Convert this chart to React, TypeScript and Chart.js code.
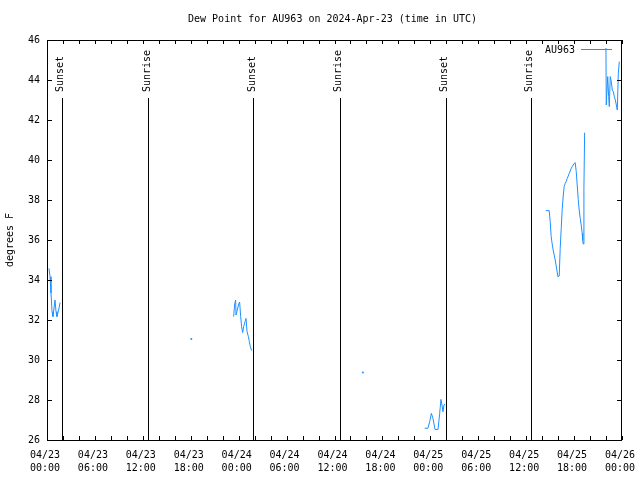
import React, { useEffect, useRef } from "react";
import { Chart, registerables } from "chart.js";

Chart.register(...registerables);

const TITLE = "Dew Point for AU963 on 2024-Apr-23 (time in UTC)";
const Y_TITLE = "degrees F";
const SERIES_NAME = "AU963";
const LINE_COLOR = "#1e90ff";
const FONT = '"DejaVu Sans Mono", "Liberation Mono", monospace';

// x-axis tick labels every 6 hours (hours since 2024-04-23 00:00 UTC)
const TICK_DATES = ["04/23", "04/23", "04/23", "04/23", "04/24", "04/24", "04/24", "04/24", "04/25", "04/25", "04/25", "04/25", "04/26"];
const TICK_TIMES = ["00:00", "06:00", "12:00", "18:00", "00:00", "06:00", "12:00", "18:00", "00:00", "06:00", "12:00", "18:00", "00:00"];

// sunrise / sunset markers (hours since 04/23 00:00)
const SUN_HOURS = [1.84, 12.67, 25.84, 36.63, 49.92, 60.59];
const SUN_LABELS = ["Sunset", "Sunrise", "Sunset", "Sunrise", "Sunset", "Sunrise"];
const SUN_LINE_TOP = 43.1;

// observation times (hours since 04/23 00:00) and dew point (°F); null = gap
const HOURS = [
  0.25, 0.38, 0.5, 0.63, 0.75, 1.0, 1.13, 1.25, 1.51, 1.63,
  1.75,
  17.9, 18.07, 18.2,
  23.3,
  23.37, 23.5, 23.62, 23.67, 23.83, 24.0, 24.12, 24.25, 24.37, 24.5, 24.62, 24.8, 24.92, 25.05, 25.21, 25.34, 25.46, 25.63,
  25.75,
  39.4, 39.55, 39.7,
  47.2,
  47.29, 47.7, 47.92, 48.13, 48.33, 48.58, 48.96, 49.17, 49.33, 49.46, 49.58, 49.71, 49.83,
  49.95,
  62.4,
  62.47, 62.88, 63.01, 63.13, 63.26, 63.38, 63.51, 63.64, 63.8, 63.97, 64.14, 64.26, 64.39, 64.51, 64.64, 64.76, 64.89,
  65.01, 65.14, 65.27, 65.39, 65.52, 65.64, 65.77, 65.89, 66.02, 66.14, 66.27, 66.39, 66.52, 66.64, 66.77, 66.89,
  67.02, 67.07, 67.14, 67.23, 67.32,
  67.5,
  69.99, 70.03, 70.21, 70.33, 70.41, 70.53, 70.66, 70.78, 70.91, 71.04, 71.16, 71.29, 71.41, 71.54, 71.66,
];
const DEW = [
  34.58, 34.17, 33.35, 32.42, 32.17, 33.0, 32.42, 32.17, 32.6, 32.87,
  null,
  null, 31.05, null,
  null,
  32.17, 32.8, 33.0, 32.25, 32.5, 32.8, 32.9, 32.17, 31.67, 31.37, 31.67, 31.92, 32.08, 31.42, 31.17, 30.92, 30.67, 30.47,
  null,
  null, 29.38, null,
  null,
  26.59, 26.59, 26.92, 27.33, 27.08, 26.53, 26.53, 27.33, 28.03, 27.75, 27.41, 27.75, 27.8,
  null,
  null,
  37.47, 37.47, 36.92, 36.17, 35.8, 35.5, 35.25, 35.0, 34.6, 34.17, 34.2, 35.58, 36.58, 37.53, 38.2, 38.67, 38.83,
  38.92, 39.08, 39.2, 39.33, 39.45, 39.58, 39.67, 39.75, 39.83, 39.87, 39.42, 38.75, 38.03, 37.5, 37.08, 36.75,
  36.33, 36.0, 35.8, 38.58, 41.37,
  null,
  45.6, 42.75, 44.17, 43.17, 42.67, 44.17, 43.92, 43.5, 43.42, 43.17, 43.0, 42.75, 42.5, 44.33, 44.92,
];

const decoPlugin = {
  id: "deco",
  beforeDatasetsDraw(chart: any) {
    const { ctx, chartArea, scales } = chart;
    const xs = scales.x;
    const ys = scales.y;
    ctx.save();
    ctx.strokeStyle = "#000";
    ctx.lineWidth = 1;
    const topY = Math.round(ys.getPixelForValue(SUN_LINE_TOP));
    SUN_HOURS.forEach((h) => {
      const px = Math.round(xs.getPixelForValue(h)) + 0.5;
      ctx.beginPath();
      ctx.moveTo(px, topY);
      ctx.lineTo(px, chartArea.bottom);
      ctx.stroke();
    });
    ctx.restore();
  },
  afterDraw(chart: any) {
    const { ctx, chartArea, scales } = chart;
    const xs = scales.x;
    const ys = scales.y;
    const { left, right, top, bottom } = chartArea;
    ctx.save();
    ctx.strokeStyle = "#000";
    ctx.fillStyle = "#000";
    ctx.lineWidth = 1;
    // border
    ctx.strokeRect(left + 0.5, top + 0.5, right - left - 1, bottom - top);
    // inward ticks
    ctx.beginPath();
    xs.ticks.forEach((t: any) => {
      const px = Math.round(xs.getPixelForValue(t.value)) + 0.5;
      ctx.moveTo(px, bottom);
      ctx.lineTo(px, bottom - 4);
      ctx.moveTo(px, top);
      ctx.lineTo(px, top + 4);
    });
    ys.ticks.forEach((t: any) => {
      const py = Math.round(ys.getPixelForValue(t.value)) + 0.5;
      ctx.moveTo(left, py);
      ctx.lineTo(left + 5, py);
      ctx.moveTo(right, py);
      ctx.lineTo(right - 5, py);
    });
    ctx.stroke();
    ctx.font = `10px ${FONT}`;
    // title
    ctx.textAlign = "center";
    ctx.textBaseline = "middle";
    ctx.fillText(TITLE, (left + right) / 2 - 2, 19);
    // sun labels
    const labelY = Math.round(ys.getPixelForValue(SUN_LINE_TOP)) - 6;
    SUN_HOURS.forEach((h, i) => {
      const px = xs.getPixelForValue(h);
      ctx.save();
      ctx.translate(px - 1, labelY);
      ctx.rotate(-Math.PI / 2);
      ctx.textAlign = "left";
      ctx.textBaseline = "middle";
      ctx.fillText(SUN_LABELS[i], 0, 0);
      ctx.restore();
    });
    // legend
    ctx.textAlign = "right";
    ctx.textBaseline = "middle";
    ctx.fillText(SERIES_NAME, 575, 50);
    ctx.strokeStyle = LINE_COLOR;
    ctx.beginPath();
    ctx.moveTo(581, 49.5);
    ctx.lineTo(612, 49.5);
    ctx.stroke();
    ctx.restore();
  },
};

export default function App() {
  const ref = useRef<HTMLCanvasElement | null>(null);
  useEffect(() => {
    if (!ref.current) return;
    const data = HOURS.map((h, i) => ({ x: h, y: DEW[i] }));
    const chart = new Chart(ref.current, {
      type: "line",
      data: {
        datasets: [
          {
            label: SERIES_NAME,
            data: data as any,
            borderColor: LINE_COLOR,
            backgroundColor: LINE_COLOR,
            borderWidth: 1,
            spanGaps: false,
            tension: 0,
            pointBorderWidth: 0,
            pointRadius: (c: any) => {
              const d = c.dataset.data;
              const i = c.dataIndex;
              const isNull = (p: any) => !p || p.y === null;
              return !isNull(d[i]) && isNull(d[i - 1]) && isNull(d[i + 1]) ? 1 : 0;
            },
          },
        ],
      },
      options: {
        animation: false,
        responsive: false,
        devicePixelRatio: 1,
        layout: { padding: { top: 40, right: 18, left: 0, bottom: 0 } },
        plugins: { legend: { display: false }, title: { display: false }, tooltip: { enabled: false } },
        scales: {
          x: {
            type: "linear",
            min: 0,
            max: 72,
            afterFit: (s: any) => {
              s.height = 40;
              s.paddingLeft = 0;
              s.paddingRight = 0;
            },
            grid: { display: false, drawTicks: false },
            border: { display: false },
            ticks: {
              stepSize: 2,
              autoSkip: false,
              maxRotation: 0,
              minRotation: 0,
              padding: 9,
              labelOffset: -2,
              color: "#000",
              font: { family: FONT, size: 10, lineHeight: 1.3 },
              callback: (v: any) => {
                const n = Number(v);
                if (n % 6 !== 0) return "";
                const k = n / 6;
                return [TICK_DATES[k], TICK_TIMES[k]];
              },
            },
          },
          y: {
            type: "linear",
            min: 26,
            max: 46,
            afterFit: (s: any) => {
              s.width = 47;
              s.paddingTop = 0;
              s.paddingBottom = 0;
            },
            grid: { display: false, drawTicks: false },
            border: { display: false },
            title: {
              display: true,
              text: Y_TITLE,
              color: "#000",
              font: { family: FONT, size: 10 },
              padding: { top: 4, bottom: 0 },
            },
            ticks: {
              stepSize: 2,
              padding: 7,
              color: "#000",
              font: { family: FONT, size: 10 },
            },
          },
        },
      },
      plugins: [decoPlugin],
    });
    return () => chart.destroy();
  }, []);
  return (
    <div style={{ position: "fixed", left: 0, top: 0, width: 640, height: 480, background: "#fff" }}>
      <canvas ref={ref} width={640} height={480} style={{ display: "block" }} />
    </div>
  );
}
